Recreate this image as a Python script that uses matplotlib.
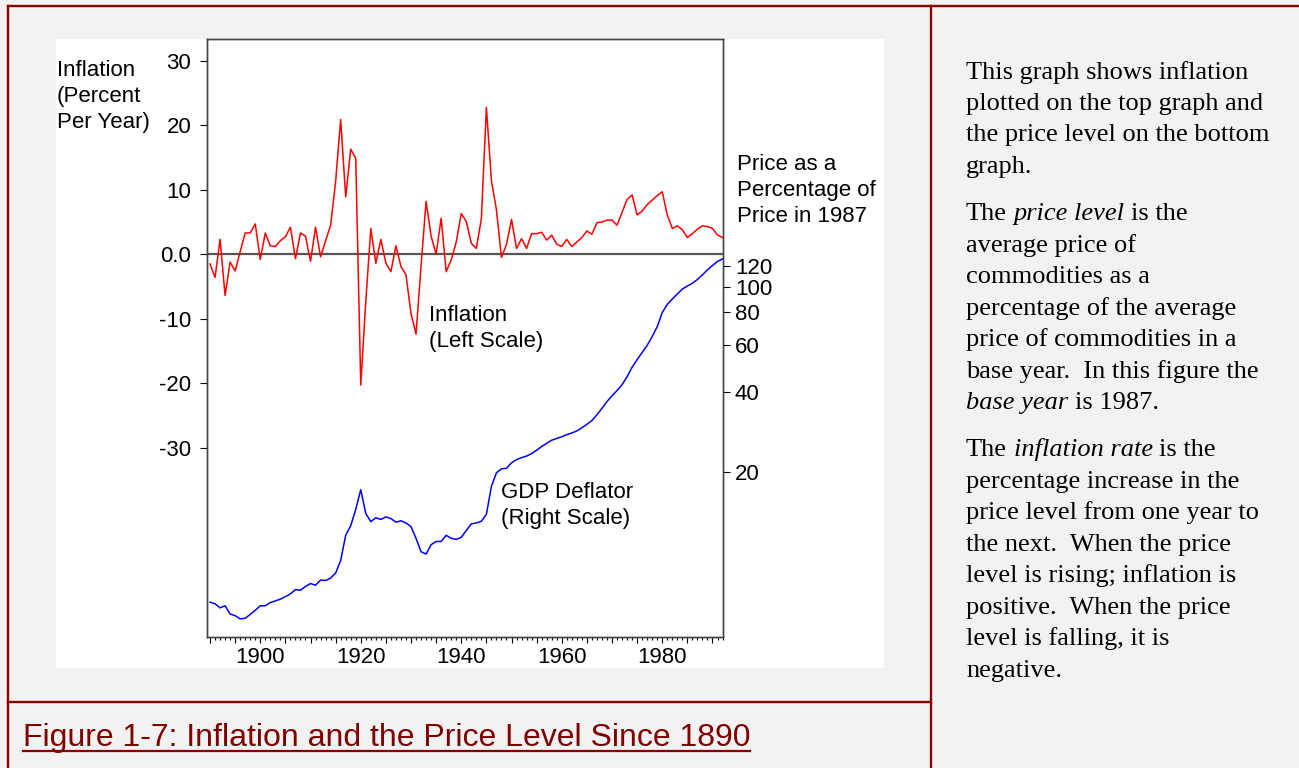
import numpy as np
import matplotlib.pyplot as plt
from matplotlib.patches import Rectangle
from matplotlib.ticker import MultipleLocator, FuncFormatter, NullLocator, FixedLocator, FixedFormatter

# annual data, 1890-1992
years = np.arange(1890, 1993)

inflation = [
    -1.5, -3.6, 2.3, -6.4, -1.2, -2.6, 0.4, 3.3, 3.3, 4.7,
    -0.8, 3.3, 1.3, 1.2, 2.1, 2.7, 4.2, -0.7, 3.3, 2.8,
    -1.1, 4.2, -0.4, 2.1, 4.5, 11.3, 20.9, 8.9, 16.3, 14.9,
    -20.3, -7.3, 4.0, -1.4, 2.3, -1.4, -2.7, 1.3, -1.9, -3.2,
    -9.2, -12.4, -1.8, 8.2, 2.8, 0.0, 5.6, -2.7, -0.9, 1.9,
    6.3, 5.1, 1.7, 0.9, 5.5, 22.8, 11.4, 6.9, -0.5, 1.5,
    5.4, 0.9, 2.4, 0.9, 3.2, 3.2, 3.4, 2.2, 2.95, 1.55,
    1.2, 2.3, 1.2, 1.9, 2.6, 3.6, 3.1, 4.9, 5.0, 5.3,
    5.3, 4.5, 6.5, 8.5, 9.2, 6.1, 6.7, 7.7, 8.4, 9.1,
    9.7, 6.1, 4.0, 4.4, 3.8, 2.6, 3.2, 3.9, 4.4, 4.3,
    4.0, 3.0, 2.6,
]

deflator = [
    6.43, 6.34, 6.12, 6.23, 5.80, 5.72, 5.56, 5.59, 5.78, 5.99,
    6.23, 6.23, 6.41, 6.50, 6.60, 6.75, 6.91, 7.17, 7.13, 7.37,
    7.56, 7.45, 7.79, 7.76, 7.93, 8.28, 9.24, 11.5, 12.5, 14.4,
    17.1, 13.9, 12.95, 13.4, 13.2, 13.5, 13.3, 12.9, 13.05, 12.8,
    12.4, 11.2, 9.97, 9.77, 10.6, 10.9, 10.9, 11.5, 11.2, 11.1,
    11.3, 12.0, 12.7, 12.8, 13.0, 13.8, 17.6, 19.8, 20.5, 20.6,
    21.6, 22.2, 22.6, 22.9, 23.4, 24.1, 24.9, 25.6, 26.3, 26.7,
    27.1, 27.6, 28.0, 28.5, 29.3, 30.2, 31.2, 32.8, 34.7, 36.8,
    38.7, 40.5, 42.6, 45.7, 49.6, 53.0, 56.4, 60.0, 64.8, 70.6,
    79.8, 85.7, 89.8, 93.8, 97.9, 100.5, 103.0, 106.4, 110.8, 115.7,
    120.2, 124.5, 127.2,
]

left_ticks = [-30, -20, -10, 0, 10, 20, 30]
left_labels = ['-30', '-20', '-10', '0.0', '10', '20', '30']
right_ticks = [20, 40, 60, 80, 100, 120]

caption = 'Figure 1-7: Inflation and the Price Level Since 1890'

notes = [
    [[('This graph shows inflation', False)],
     [('plotted on the top graph and', False)],
     [('the price level on the bottom', False)],
     [('graph.', False)]],
    [[('The', False), ('price level', True), ('is the', False)],
     [('average price of', False)],
     [('commodities as a', False)],
     [('percentage of the average', False)],
     [('price of commodities in a', False)],
     [('base year.  In this figure the', False)],
     [('base year', True), ('is 1987.', False)]],
    [[('The', False), ('inflation rate', True), ('is the', False)],
     [('percentage increase in the', False)],
     [('price level from one year to', False)],
     [('the next.  When the price', False)],
     [('level is rising; inflation is', False)],
     [('positive.  When the price', False)],
     [('level is falling, it is', False)],
     [('negative.', False)]],
]

plt.rcParams['font.family'] = ['Liberation Sans', 'DejaVu Sans']

W, H = 1299, 768
fig = plt.figure(figsize=(W / 100, H / 100), dpi=100)
fig.patch.set_facecolor('#f2f2f2')

# pixel layer for frame, white panel and text
bg = fig.add_axes([0, 0, 1, 1])
bg.set_xlim(0, W)
bg.set_ylim(H, 0)
bg.axis('off')

frame = '#8b0000'
bg.plot([8, W], [6, 6], color=frame, lw=1.7)
bg.plot([8, 8], [6, H], color=frame, lw=1.7)
bg.plot([931, 931], [6, H], color=frame, lw=1.7)
bg.plot([8, 931], [702, 702], color=frame, lw=1.7)
bg.add_patch(Rectangle((56, 39), 828, 629, facecolor='white', edgecolor='none'))

# chart
ax = fig.add_axes([206.7 / W, 1 - 637 / H, 516 / W, 598 / H])
ax.set_facecolor('none')
ax.axhline(0, color='#555555', lw=1.6, zorder=1)
ax.plot(years, inflation, color='#ff0000', lw=1.1, zorder=3)
ax.set_xlim(1889.34, 1992.03)
ax.set_ylim(-59.4, 33.4)
ax.yaxis.set_major_locator(FixedLocator(left_ticks))
ax.yaxis.set_major_formatter(FixedFormatter(left_labels))
ax.xaxis.set_major_locator(MultipleLocator(5))
ax.xaxis.set_minor_locator(MultipleLocator(1))
ax.xaxis.set_major_formatter(FuncFormatter(lambda v, p: '%d' % v if round(v) % 20 == 0 else ''))
ax.tick_params(axis='y', direction='out', length=5.4, width=0.8, pad=5.8, labelsize=16)
ax.tick_params(axis='x', which='major', direction='out', length=4.3, width=0.8, pad=3, labelsize=16)
ax.tick_params(axis='x', which='minor', direction='out', length=2.5, width=0.8)

ax2 = ax.twinx()
ax2.plot(years, deflator, color='#0000ff', lw=1.1)
ax2.set_yscale('log')
ax2.set_ylim(4.749, 861.5)
ax2.yaxis.set_major_locator(FixedLocator(right_ticks))
ax2.yaxis.set_major_formatter(FixedFormatter([str(t) for t in right_ticks]))
ax2.yaxis.set_minor_locator(NullLocator())
ax2.tick_params(axis='y', direction='out', length=5, width=0.8, pad=3.8, labelsize=16)

for a in (ax, ax2):
    for s in a.spines.values():
        s.set_color('#444444')
        s.set_linewidth(1.0)

# chart labels (pixel positions, baselines)
sans = dict(fontsize=16, va='baseline', color='black')
for i, s in enumerate(['Inflation', '(Percent', 'Per Year)']):
    bg.text(56.7, 76 + i * 26.1, s, **sans)
for i, s in enumerate(['Price as a', 'Percentage of', 'Price in 1987']):
    bg.text(737.3, 170 + i * 26.1, s, **sans)
for i, s in enumerate(['Inflation', '(Left Scale)']):
    bg.text(429.3, 321 + i * 26.1, s, **sans)
for i, s in enumerate(['GDP Deflator', '(Right Scale)']):
    bg.text(501.4, 498.3 + i * 26.1, s, **sans)

# caption with underline
renderer = fig.canvas.get_renderer()
cap = bg.text(22.8, 746, caption, fontsize=23, color='#800000', va='baseline')
bb = cap.get_window_extent(renderer)
(x0, _), (x1, _) = bg.transData.inverted().transform([(bb.x0, bb.y0), (bb.x1, bb.y0)])
bg.plot([x0, x1], [750.5, 750.5], color='#800000', lw=1.6)

# explanatory notes on the right
serif = dict(fontsize=19, va='baseline', color='black', family='Liberation Serif')


def text_width(s, italic):
    t = bg.text(0, 0, s, style='italic' if italic else 'normal', **serif)
    b = t.get_window_extent(renderer)
    t.remove()
    return b.width


space = text_width('a a', False) - text_width('aa', False)

y = 78.5
for para in notes:
    for line in para:
        x = 966
        for s, italic in line:
            bg.text(x, y, s, style='italic' if italic else 'normal', **serif)
            x += text_width(s, italic) + space
        y += 31.45
    y += 16

fig.savefig('out.png', dpi=100, facecolor=fig.get_facecolor())
